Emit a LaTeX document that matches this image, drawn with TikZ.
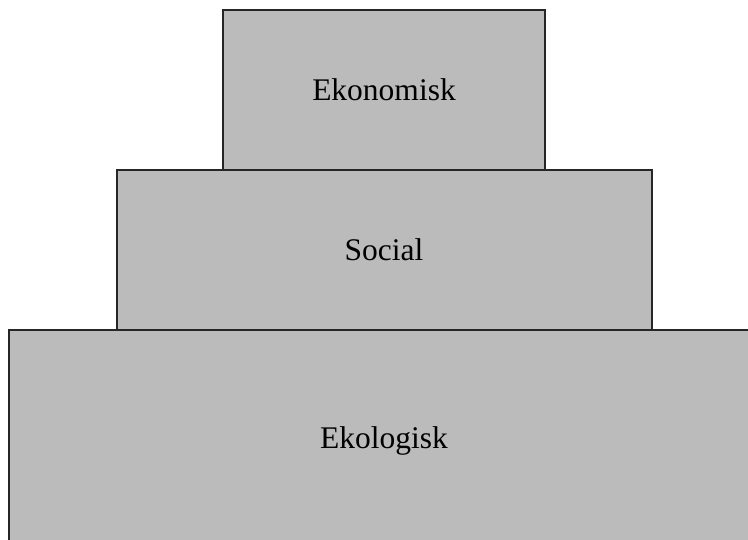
\documentclass[tikz,border=0pt]{standalone}
\usepackage{fontspec}
\setmainfont{Liberation Serif}
\usetikzlibrary{positioning}
\definecolor{layergray}{RGB}{187,187,187}
\tikzstyle{every node}=[font={\fontsize{31.5}{36}\selectfont}, inner sep=0pt, outer sep=0pt]
\tikzstyle{layer}=[draw=black!85, line width=2pt, fill=layergray, rectangle]

\begin{document}
\begin{tikzpicture}[x=1pt,y=-1pt]
    \clip (0,0) rectangle (748,540);
    \node [layer, minimum width=322pt, minimum height=160pt] (ekonomisk) at (384,90) {Ekonomisk};
    \node [layer, minimum width=535pt, minimum height=160pt, below=0pt of ekonomisk] (social) {Social};
    \node [layer, minimum width=750pt, minimum height=222pt, below=0pt of social] (ekologisk) {Ekologisk};
\end{tikzpicture}
\end{document}
